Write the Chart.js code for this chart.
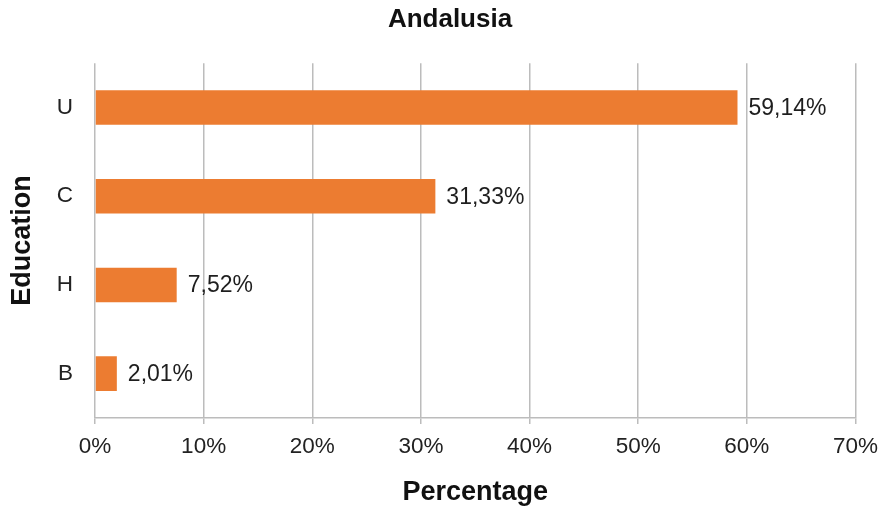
<!DOCTYPE html>
<html>
<head>
<meta charset="utf-8">
<script src="https://cdn.jsdelivr.net/npm/chart.js@4/dist/chart.umd.min.js"></script>
<style>
  html, body { margin: 0; padding: 0; background: #fff; }
  #wrap { width: 887px; height: 511px; }
</style>
</head>
<body>
<div id="wrap"><canvas id="c" width="887" height="511"></canvas></div>
<script>
// Education levels, top to bottom
const categories = ['U', 'C', 'H', 'B'];
// Share of respondents per level (%)
const percentages = [59.14, 31.33, 7.52, 2.01];
// X axis range and step (%)
const axisMax = 70;
const axisStep = 10;

const FONT = '"Liberation Sans", Arial, Helvetica, sans-serif';
const GRID = '#bcbcbc';

// Writes each bar's value (comma decimal) just past its end
const valueLabels = {
  id: 'valueLabels',
  afterDatasetsDraw(chart) {
    const ctx = chart.ctx;
    const meta = chart.getDatasetMeta(0);
    ctx.save();
    ctx.font = '23px ' + FONT;
    ctx.fillStyle = '#1e1e1e';
    ctx.textAlign = 'left';
    ctx.textBaseline = 'middle';
    meta.data.forEach((bar, i) => {
      const txt = percentages[i].toFixed(2).replace('.', ',') + '%';
      ctx.fillText(txt, bar.x + 11, bar.y + 1);
    });
    ctx.restore();
  }
};

new Chart(document.getElementById('c'), {
  type: 'bar',
  data: {
    labels: categories,
    datasets: [{
      data: percentages,
      backgroundColor: '#ec7c31',
      borderWidth: 0,
      barPercentage: 0.39,
      categoryPercentage: 1
    }]
  },
  plugins: [valueLabels],
  options: {
    indexAxis: 'y',
    responsive: false,
    animation: false,
    layout: { padding: { left: 42, right: 29, top: 0, bottom: 2 } },
    plugins: {
      legend: { display: false },
      tooltip: { enabled: false },
      title: {
        display: true,
        text: 'Andalusia',
        color: '#111',
        font: { family: FONT, size: 26, weight: 'bold' },
        padding: { top: 4, bottom: 28 }
      }
    },
    scales: {
      x: {
        min: 0,
        max: axisMax,
        ticks: {
          stepSize: axisStep,
          color: '#222',
          padding: 9,
          font: { family: FONT, size: 22.5 },
          callback: v => v + '%'
        },
        grid: {
          color: GRID,
          lineWidth: 1.5,
          drawTicks: true,
          tickLength: 6,
          tickColor: GRID
        },
        border: { display: true, color: GRID, width: 1.5 },
        title: {
          display: true,
          text: 'Percentage',
          color: '#111',
          font: { family: FONT, size: 27, weight: 'bold' },
          padding: { top: 19, bottom: 0 }
        },
        afterFit(scale) { scale.height = 91; }
      },
      y: {
        ticks: {
          color: '#222',
          padding: 22,
          font: { family: FONT, size: 22.5 }
        },
        grid: { display: false, drawTicks: false },
        border: { display: false },
        title: {
          display: true,
          text: 'Education',
          color: '#111',
          font: { family: FONT, size: 27, weight: 'bold' },
          // the axis title sits left of the scale box, near the canvas edge
          padding: { top: -36, bottom: 0 }
        },
        afterFit(scale) { scale.width = 53; }
      }
    }
  }
});
</script>
</body>
</html>
